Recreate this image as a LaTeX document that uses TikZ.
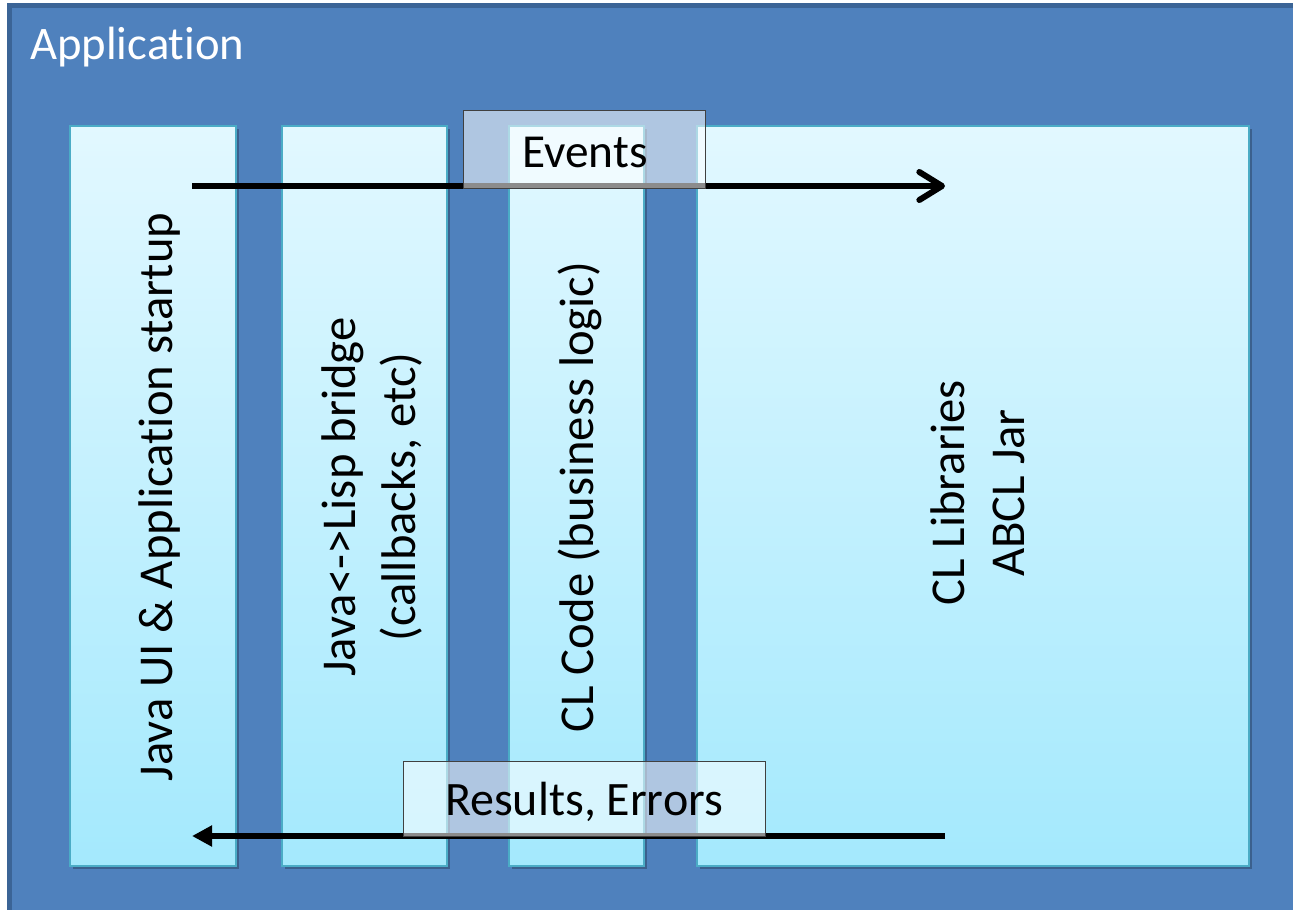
\documentclass[tikz,border=0pt]{standalone}
\usepackage{fontspec}
\setmainfont{Carlito}[Ligatures={NoCommon,NoContextual}, RawFeature={-liga;-clig;-dlig;-calt}]
\usetikzlibrary{arrows.meta,shadows}
\definecolor{appblue}{HTML}{4F81BD}
\definecolor{appborder}{HTML}{3B6496}
\definecolor{colborder}{HTML}{4BACC6}
\definecolor{coltop}{HTML}{E2F8FF}
\definecolor{colbot}{HTML}{A4E9FD}
\tikzset{
  colbox/.style={draw=colborder, line width=1.5pt, top color=coltop, bottom color=colbot,
    inner sep=0pt, drop shadow={shadow xshift=2pt, shadow yshift=-2pt, opacity=0.25, fill=black}},
  coltext/.style={rotate=90, font=\fontsize{36.5}{45}\selectfont, align=center, text=black, inner sep=0pt},
  labelbox/.style={draw=black!75, line width=0.6pt, fill=white, fill opacity=0.55, text opacity=1,
    font=\fontsize{35.5}{42}\selectfont, text=black, inner sep=0pt},
  flow/.style={line width=4.5pt, line cap=round}
}
\begin{document}
\begin{tikzpicture}[x=0.75pt,y=-0.75pt]
\useasboundingbox (0,0) rectangle (1293,910);
\clip (0,0) rectangle (1293,910);
\fill[white] (0,0) rectangle (1293,910);
% outer application frame
\draw[appborder, fill=appblue, line width=3.75pt] (9.5,5.5) rectangle (1320,940);
\node[anchor=base west, text=white, font=\fontsize{35}{42}\selectfont, inner sep=0pt] (apptitle) at (30,60) {Application};
% columns
\node[colbox, minimum width=124.5pt, minimum height=555pt] (c1) at (153,496) {};
\node[colbox, minimum width=123.75pt, minimum height=555pt] (c2) at (364.5,496) {};
\node[colbox, minimum width=101.25pt, minimum height=555pt] (c3) at (576.5,496) {};
\node[colbox, minimum width=414pt, minimum height=555pt] (c4) at (973,496) {};
% column texts
\node[coltext] (t1) at (160,497) {Java UI \& Application startup};
\node[coltext] (t2) at (372,497) {Java<->Lisp bridge\\(callbacks, etc)};
\node[coltext] (t3) at (580,497) {CL Code (business logic)};
\node[coltext] (t4) at (978,493) {CL Libraries\\ABCL Jar};
% arrows
\coordinate (evS) at (192,186);
\coordinate (evE) at (945,186);
\coordinate (reS) at (945,836);
\coordinate (reE) at (192,836);
\draw[flow, line cap=butt, -{Straight Barb[length=17pt,width=21pt,line cap=round,line join=round]}] (evS) -- (evE);
\draw[flow, line cap=butt, -{Triangle[length=15pt,width=15pt]}] (reS) -- (reE);
% label boxes
\node[labelbox, minimum width=181.5pt, minimum height=58.5pt, text depth=0pt] (ev) at (584,149) {};
\node[labelbox, minimum width=271.5pt, minimum height=56.25pt] (re) at (584,798.5) {};
\node[font=\fontsize{35.5}{42}\selectfont, inner sep=0pt] (evt) at (585,152) {Events};
\node[font=\fontsize{36}{42}\selectfont, inner sep=0pt] (ret) at (584,802) {Results, Errors};
\end{tikzpicture}
\end{document}
